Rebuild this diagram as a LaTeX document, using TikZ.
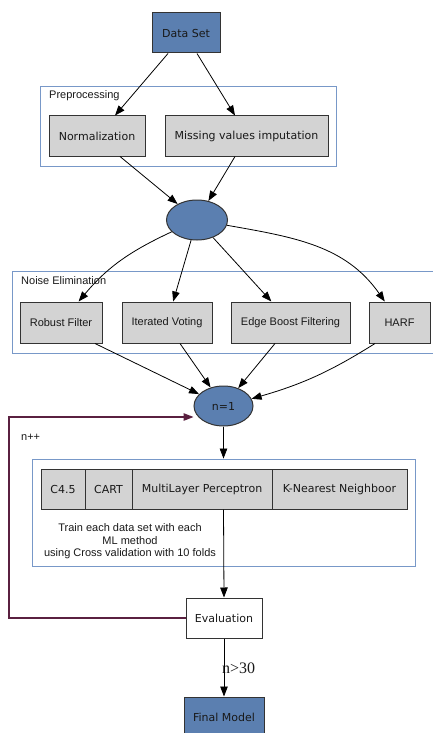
\documentclass[tikz,border=0pt]{standalone}
\usepackage{fontspec}
\setmainfont{DejaVu Sans}
\newfontfamily\arialf{Liberation Sans}
\newfontfamily\timesf{Liberation Serif}
\usetikzlibrary{arrows.meta,shapes.geometric,calc}
\definecolor{nodeblue}{HTML}{5B7FB0}
\definecolor{nodegray}{HTML}{D3D3D3}
\definecolor{clusterblue}{HTML}{7898C8}
\definecolor{borderdark}{HTML}{333333}
\definecolor{fbline}{HTML}{5A2040}
\begin{document}
\begin{tikzpicture}[x=1pt,y=-1pt,
  box/.style={draw=borderdark,line width=1pt,inner sep=0pt,font=\fontsize{11}{13}\selectfont,text=black!90},
  bluebox/.style={box,fill=nodeblue},
  graybox/.style={box,fill=nodegray},
  arialbox/.style={graybox,font=\arialf\fontsize{11}{13}\selectfont},
  blueell/.style={ellipse,draw=borderdark,line width=1pt,fill=nodeblue,inner sep=0pt,font=\fontsize{11}{13}\selectfont,text=black!90},
  cluster/.style={draw=clusterblue,line width=0.9pt,inner sep=0pt},
  clabel/.style={font=\arialf\fontsize{11}{13}\selectfont,anchor=west,inner sep=0pt,text=black!90},
  edge/.style={line width=0.8pt,-{Triangle[length=10pt,width=7.5pt]}},
]
\useasboundingbox (0,0) rectangle (433,733);
% clusters
\node[cluster,minimum width=296pt,minimum height=80pt] (pre) at (188,126) {};
\node[clabel] (prelab) at (49,96) {Preprocessing};
\node[cluster,minimum width=428pt,minimum height=82pt] (noise) at (226,312) {};
\node[clabel] (noiselab) at (21,281) {Noise Elimination};
\node[cluster,minimum width=383pt,minimum height=107pt] (mlc) at (223.5,512.5) {};
% nodes
\node[bluebox,minimum width=68pt,minimum height=40pt] (ds) at (186,33) {Data Set};
\node[graybox,minimum width=96pt,minimum height=40pt] (norm) at (97,136) {Normalization};
\node[graybox,minimum width=163pt,minimum height=40pt] (miss) at (246.5,136) {Missing values imputation};
\node[blueell,minimum width=61pt,minimum height=40pt] (e1) at (197,220) {};
\node[arialbox,minimum width=82pt,minimum height=41pt] (rf) at (61,322.5) {Robust Filter};
\node[arialbox,minimum width=90pt,minimum height=41pt] (iv) at (167,322.5) {Iterated Voting};
\node[arialbox,minimum width=119pt,minimum height=41pt] (eb) at (290.5,322.5) {Edge Boost Filtering};
\node[arialbox,minimum width=61pt,minimum height=41pt] (harf) at (399.5,322.5) {HARF};
\node[blueell,minimum width=59pt,minimum height=40pt] (n1) at (223.5,406) {n=1};
\node[graybox,minimum width=44pt,minimum height=40pt] (c45) at (63,489) {C4.5};
\node[graybox,minimum width=47pt,minimum height=40pt] (cart) at (108.5,489) {CART};
\node[graybox,minimum width=140pt,minimum height=40pt] (mlp) at (202,489) {MultiLayer Perceptron};
\node[graybox,minimum width=135pt,minimum height=40pt] (knn) at (339.5,489) {K-Nearest Neighboor};
\node[font=\arialf\fontsize{11}{12.5}\selectfont,align=center,inner sep=0pt,text=black!90] (train) at (130,541.5) {Train each data set with each\\ML method\\using Cross validation with 10 folds};
\node[box,fill=white,minimum width=76pt,minimum height=40pt] (eval) at (224,618) {Evaluation};
\node[bluebox,minimum width=80pt,minimum height=40pt] (fm) at (224,717) {Final Model};
\node[font=\arialf\fontsize{11}{13}\selectfont,inner sep=0pt,anchor=west,text=black!90] (npp) at (21,437) {n++};
\node[font=\timesf\fontsize{16}{18}\selectfont,inner sep=0pt,anchor=west,text=black!90] (ngt) at (222,668) {n>30};
% edges
\draw[edge] ([xshift=-18pt]ds.south) -- ([xshift=18pt]norm.north);
\draw[edge] ([xshift=11pt]ds.south) -- ([xshift=-11.5pt]miss.north);
\draw[edge] ([xshift=23pt]norm.south) -- (e1);
\draw[edge] ([xshift=-11.5pt]miss.south) -- (e1);
\draw[edge] (e1) to[out=205,in=50] (rf);
\draw[edge] (e1) -- (iv);
\draw[edge] (e1) -- (eb);
\draw[edge] (e1) to[out=-10,in=125] (harf);
\draw[edge] ([xshift=34pt]rf.south) -- (n1);
\draw[edge] ([xshift=13pt]iv.south) -- (n1);
\draw[edge] ([xshift=-15.5pt]eb.south) -- (n1);
\draw[edge] ([xshift=-24.5pt]harf.south) to[bend left=8] (n1);
\draw[edge] (n1.south) -- (n1.south |- mlc.north);
\draw[edge] (n1.south |- mlp.south) -- (eval.north);
\draw[edge] (eval.south) -- (fm.north);
\coordinate (fbc) at (9,417);
\draw[fbline,line width=1.3pt,-{Triangle[length=10pt,width=7.5pt]}] (eval.west) -| (fbc) -- (fbc -| n1.west);
\end{tikzpicture}
\end{document}
